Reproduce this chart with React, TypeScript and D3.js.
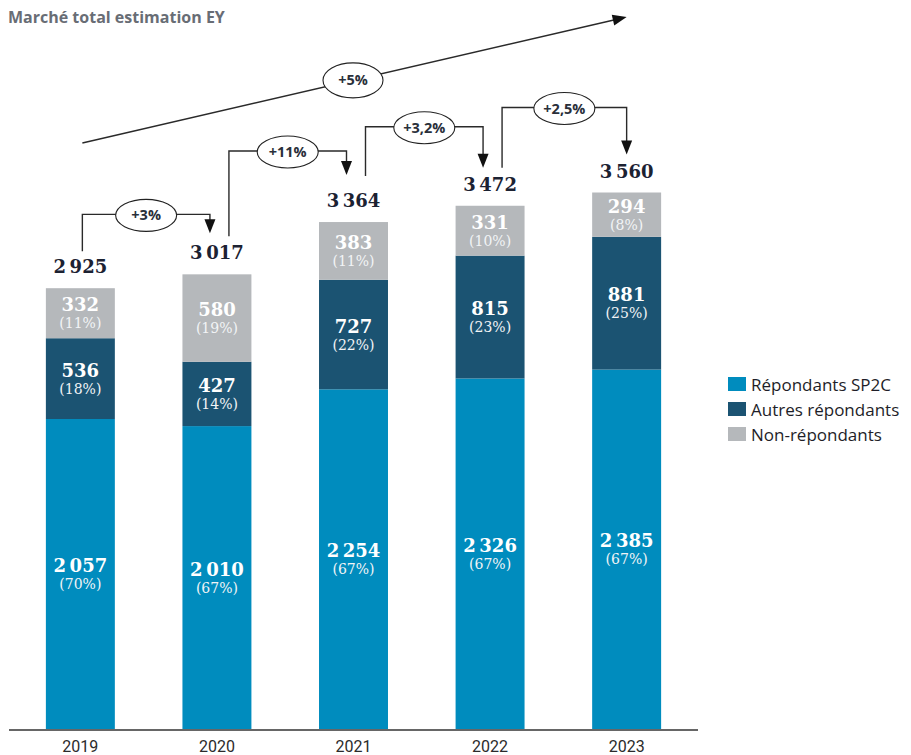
import React from "react";
import * as d3 from "d3";

// Market size (M€) by respondent type
const years = ["2019", "2020", "2021", "2022", "2023"];
const sp2c = [2057, 2010, 2254, 2326, 2385];
const autres = [536, 427, 727, 815, 881];
const nonRep = [332, 580, 383, 331, 294];
const sp2cPct = ["70%", "67%", "67%", "67%", "67%"];
const autresPct = ["18%", "14%", "22%", "23%", "25%"];
const nonRepPct = ["11%", "19%", "11%", "10%", "8%"];
const totals = [2925, 3017, 3364, 3472, 3560];
const yearGrowth = ["+3%", "+11%", "+3,2%", "+2,5%"];
const overallGrowth = "+5%";

const seriesNames = ["Répondants SP2C", "Autres répondants", "Non-répondants"];
const colors = ["#008cbe", "#1b5372", "#b5b8bb"];

const W = 911;
const H = 755;
const baseY = 729;

// connector layout: start gap above bar, arrow gap above next bar, rise of horizontal run
const bracketStart = [37, 38, 46, 38];
const bracketEnd = [41, 47, 38, 38];
const bracketRise = [60, 71, 79, 85];

const serif = "'DejaVu Serif', 'Liberation Serif', serif";
const sans = "'Open Sans', Roboto, sans-serif";

const fmt = (v: number) => {
  const s = String(v);
  return s.length > 3 ? s.slice(0, s.length - 3) + "\u2009" + s.slice(s.length - 3) : s;
};

export default function App() {
  const x = d3
    .scaleBand<string>()
    .domain(years)
    .range([9, 698])
    .paddingInner(0.495)
    .paddingOuter(0.27);
  const y = d3.scaleLinear().domain([0, 3560]).range([baseY, 192.5]);

  const rows = years.map((yr, i) => ({ year: yr, sp2c: sp2c[i], autres: autres[i], nonRep: nonRep[i] }));
  const stack = d3.stack<any>().keys(["sp2c", "autres", "nonRep"])(rows);
  const pcts = [sp2cPct, autresPct, nonRepPct];

  const bw = x.bandwidth();
  const cx = (i: number) => (x(years[i]) as number) + bw / 2;

  const arrowHead = (tx: number, ty: number, dir: "down" | number) => {
    if (dir === "down") {
      return `M${tx},${ty} L${tx - 5.5},${ty - 14} L${tx + 5.5},${ty - 14} Z`;
    }
    const a = dir as number;
    const L = 14, hw = 5.5;
    const bx = tx - L * Math.cos(a), by = ty - L * Math.sin(a);
    const px = -Math.sin(a) * hw, py = Math.cos(a) * hw;
    return `M${tx},${ty} L${bx + px},${by + py} L${bx - px},${by - py} Z`;
  };

  // overall trend arrow
  const tStart = { x: cx(0) + 2, y: 143 };
  const tEnd = { x: cx(years.length - 1), y: 17 };
  const tAng = Math.atan2(tEnd.y - tStart.y, tEnd.x - tStart.x);
  const tMid = { x: 353, y: tStart.y + ((353 - tStart.x) / (tEnd.x - tStart.x)) * (tEnd.y - tStart.y) };

  return (
    <svg
      width={W}
      height={H}
      style={{ position: "absolute", left: 0, top: 0, display: "block", background: "#fff" }}
    >
      <text x={8} y={23} fontFamily={sans} fontWeight={700} fontSize={16} fill="#686d75">
        Marché total estimation EY
      </text>

      {stack.map((layer, si) => (
        <g key={si}>
          {layer.map((d, i) => {
            const y0 = y(d[0]);
            const y1 = y(d[1]);
            const mid = (y0 + y1) / 2;
            return (
              <g key={i}>
                <rect x={x(years[i])} y={y1} width={bw} height={y0 - y1} fill={colors[si]} />
                <text
                  x={cx(i)}
                  y={mid - 2}
                  textAnchor="middle"
                  fontFamily={serif}
                  fontWeight={700}
                  fontSize={18}
                  fill="#fff"
                >
                  {fmt(d[1] - d[0])}
                </text>
                <text
                  x={cx(i)}
                  y={mid + 15}
                  textAnchor="middle"
                  fontFamily={serif}
                  fontSize={14}
                  fill="#f2f4f6"
                >
                  ({pcts[si][i]})
                </text>
              </g>
            );
          })}
        </g>
      ))}

      {totals.map((t, i) => (
        <text
          key={i}
          x={cx(i)}
          y={y(t) - 15}
          textAnchor="middle"
          fontFamily={serif}
          fontWeight={700}
          fontSize={18}
          fill="#1c2232"
        >
          {fmt(t)}
        </text>
      ))}

      {/* year-over-year connectors */}
      {yearGrowth.map((g, i) => {
        const sx = cx(i) + (i === 0 ? 2 : 12);
        const ex = cx(i + 1) + (i + 1 === years.length - 1 ? 0 : -7);
        const sy = y(totals[i]) - bracketStart[i];
        const ty = y(totals[i + 1]) - bracketEnd[i];
        const hy = y(Math.max(totals[i], totals[i + 1])) - bracketRise[i];
        const mx = (sx + ex) / 2;
        return (
          <g key={i}>
            <path
              d={`M${sx},${sy} V${hy} H${ex} V${ty - 12}`}
              fill="none"
              stroke="#2a2a2a"
              strokeWidth={1.4}
            />
            <path d={arrowHead(ex, ty, "down")} fill="#111" />
            <ellipse cx={mx} cy={hy + 1} rx={30.5} ry={16} fill="#fff" stroke="#222" strokeWidth={1.1} />
            <text
              x={mx}
              y={hy + 6}
              textAnchor="middle"
              fontFamily={sans}
              fontWeight={700}
              fontSize={14.5}
              fill="#2a2f3a"
            >
              {g}
            </text>
          </g>
        );
      })}

      <g>
        <line
          x1={tStart.x}
          y1={tStart.y}
          x2={tEnd.x - 12 * Math.cos(tAng)}
          y2={tEnd.y - 12 * Math.sin(tAng)}
          stroke="#2a2a2a"
          strokeWidth={1.4}
        />
        <path d={arrowHead(tEnd.x, tEnd.y, tAng)} fill="#111" />
        <ellipse cx={tMid.x} cy={tMid.y} rx={30} ry={17.5} fill="#fff" stroke="#222" strokeWidth={1.1} />
        <text
          x={tMid.x}
          y={tMid.y + 5}
          textAnchor="middle"
          fontFamily={sans}
          fontWeight={700}
          fontSize={14.5}
          fill="#2a2f3a"
        >
          {overallGrowth}
        </text>
      </g>

      {/* baseline and year labels */}
      <line x1={9} x2={698} y1={baseY + 1} y2={baseY + 1} stroke="#333" strokeWidth={1.5} />
      {years.map((yr, i) => (
        <text key={yr} x={cx(i)} y={752} textAnchor="middle" fontFamily="Roboto, sans-serif" fontSize={16} fill="#2b2b2b">
          {yr}
        </text>
      ))}

      {/* legend */}
      {seriesNames.map((n, i) => (
        <g key={n} transform={`translate(728, ${377 + i * 25})`}>
          <rect width={18} height={14} fill={colors[i]} />
          <text x={23} y={13.5} fontFamily={sans} fontSize={17} fill="#1e1e28">
            {n}
          </text>
        </g>
      ))}
    </svg>
  );
}
